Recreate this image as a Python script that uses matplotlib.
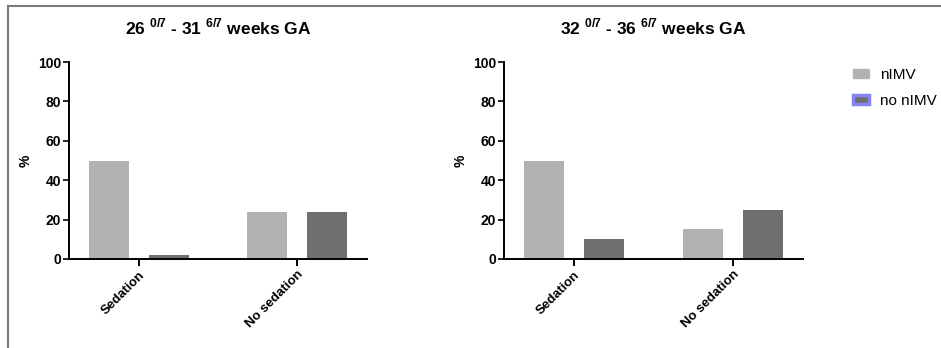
import numpy as np
import matplotlib.pyplot as plt
from matplotlib.lines import Line2D
from matplotlib.patches import Patch

plt.rcParams['font.family'] = ['Liberation Sans', 'DejaVu Sans']
plt.rcParams['mathtext.fontset'] = 'custom'
plt.rcParams['mathtext.rm'] = 'Liberation Sans:bold'
plt.rcParams['mathtext.bf'] = 'Liberation Sans:bold'

categories = ['Sedation', 'No sedation']
titles = [r'26 $^{\mathbf{0/7}}$ - 31 $^{\mathbf{6/7}}$ weeks GA',
          r'32 $^{\mathbf{0/7}}$ - 36 $^{\mathbf{6/7}}$ weeks GA']
nimv = [[50, 24], [50, 15]]
no_nimv = [[2, 24], [10, 25]]
yticks = [0, 20, 40, 60, 80, 100]

light = '#b2b2b2'
dark = '#6f6f6f'

fig = plt.figure(figsize=(9.41, 3.48), dpi=100)

# frame pieces visible in the screenshot
fig.add_artist(Line2D([8 / 941, 1], [1 - 6 / 348] * 2, color='#7a7a7a', lw=1.5))
fig.add_artist(Line2D([8 / 941] * 2, [0, 1 - 6 / 348], color='#7a7a7a', lw=1.5))

positions = [[69 / 941, 1 - 259 / 348, 298 / 941, 197 / 348],
             [504 / 941, 1 - 259 / 348, 299 / 941, 197 / 348]]

x = np.arange(len(categories))
w = 0.253
off = 0.19
for i in range(2):
    ax = fig.add_axes(positions[i])
    ax.bar(x - off, nimv[i], w, color=light, label='nIMV')
    ax.bar(x + off, no_nimv[i], w, color=dark, label='no nIMV')
    ax.set_xlim(-0.44, 1.44)
    ax.set_ylim(0, 100)
    ax.set_yticks(yticks)
    ax.set_yticklabels([str(v) for v in yticks], fontweight='bold', fontsize=10)
    ax.set_xticks(x)
    ax.set_xticklabels(categories, rotation=45, ha='right', rotation_mode='anchor',
                       fontweight='bold', fontsize=9.5)
    for s in ['top', 'right']:
        ax.spines[s].set_visible(False)
    for s in ['left', 'bottom']:
        ax.spines[s].set_linewidth(1.4)
    ax.tick_params(axis='y', length=4, width=1.2, pad=1.5)
    ax.tick_params(axis='x', length=5, width=1.4, pad=2)
    ax.set_ylabel('%', fontweight='bold', fontsize=10, labelpad=4)
    ax.set_title(titles[i], fontweight='bold', fontsize=12.5, pad=20)

handles = [Patch(facecolor=light, edgecolor=light, label='nIMV'),
           Patch(facecolor=dark, edgecolor='#8484f4', linewidth=2.5, label='no nIMV')]
fig.legend(handles=handles, loc='upper left', bbox_to_anchor=(845 / 941, 1 - 60 / 348),
           frameon=False, fontsize=11, handlelength=1.1, handleheight=0.55,
           handletextpad=0.7, labelspacing=0.8, borderpad=0)

fig.savefig('out.png', dpi=100)
